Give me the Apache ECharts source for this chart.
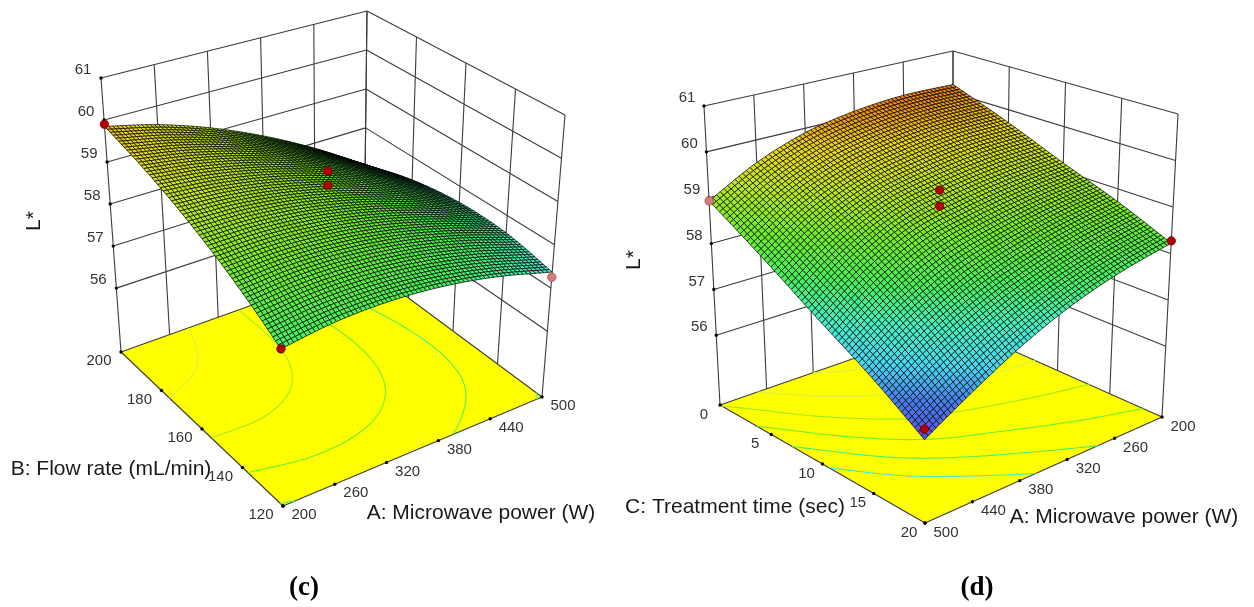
<!DOCTYPE html>
<html><head><meta charset="utf-8">
<style>html,body{margin:0;padding:0;background:#fff}#c{width:1254px;height:607px}</style>
<script src="https://cdn.jsdelivr.net/npm/echarts@6/dist/echarts.min.js"></script>
</head><body><div id="c"></div>
<script>
// ---------- data ----------
const powerTicks = [200, 260, 320, 380, 440, 500];
const flowTicks = [120, 140, 160, 180, 200];
const timeTicks = [0, 5, 10, 15, 20];
const lightnessTicks = [56, 57, 58, 59, 60, 61];
const contourLevels = [57.4, 57.9, 58.4, 58.9, 59.4, 59.9, 60.4];

// L* by flow rate (rows) and microwave power (columns)
const flowB120 = [57.86, 58.02, 58.05, 57.95, 57.72, 57.37];
const flowB140 = [58.48, 58.56, 58.51, 58.33, 58.02, 57.59];
const flowB160 = [59.02, 58.99, 58.84, 58.56, 58.14, 57.61];
const flowB180 = [59.48, 59.32, 59.04, 58.63, 58.10, 57.43];
const flowB200 = [59.85, 59.55, 59.12, 58.56, 57.87, 57.06];

// L* by treatment time (rows) and microwave power (columns)
const timeC0  = [60.20, 60.22, 60.12, 59.90, 59.50, 58.93];
const timeC5  = [59.70, 59.68, 59.55, 59.32, 58.88, 58.20];
const timeC10 = [59.18, 59.10, 58.95, 58.72, 58.20, 57.48];
const timeC15 = [58.72, 58.56, 58.32, 57.98, 57.48, 56.83];
const timeC20 = [58.22, 58.00, 57.68, 57.24, 56.70, 56.13];

// design points [power, second factor, L*, colour key]
const pointsC = [[200,200,59.90,0],[200,120,57.86,0],[500,120,57.25,1],[350,160,59.37,0],[350,160,59.05,0]];
const pointsD = [[500,0,58.93,1],[500,20,56.34,0],[200,20,58.27,0],[350,10,59.40,0],[350,10,59.05,0]];

// ---------- layout ----------
const Z_MIN = 54.48, Z_MAX = 61, MESH = 64;
const palette = [[56.1,[85,75,225]],[56.6,[70,130,240]],[57.0,[70,215,245]],[57.5,[70,240,190]],
  [58.0,[70,240,90]],[58.6,[115,238,40]],[59.2,[190,232,30]],[59.7,[238,215,20]],[60.2,[240,130,20]],[61,[220,80,20]]];
function colorAt(z){
  if(z<=palette[0][0]) return 'rgb('+palette[0][1]+')';
  for(let i=1;i<palette.length;i++){ if(z<=palette[i][0]){
    const a=palette[i-1],b=palette[i],f=(z-a[0])/(b[0]-a[0]);
    return 'rgb('+a[1].map((c,k)=>Math.round(c+(b[1][k]-c)*f))+')'; } }
  return 'rgb('+palette[palette.length-1][1]+')';
}
const panelC = {
  secondTicks: flowTicks, rows:[flowB120,flowB140,flowB160,flowB180,flowB200], points:pointsC, front:[0,0],
  wallU:1, wallV:1,
  floor:[[[283,506],[121,352]],[[542,397],[364,265]]], // [u][v]
  top:[[[279,203],[101,78]],[[565,115],[367,11]]],
  powerAxisV:0, secondAxisU:0, zAxis:[0,1],
  zOff:[-18,-8], powerOff:[21,9], secondOff:[-22,9]
};
const panelD = {
  secondTicks: timeTicks, rows:[timeC0,timeC5,timeC10,timeC15,timeC20], points:pointsD, front:[1,1],
  wallU:0, wallV:0,
  floor:[[[953,324],[1162,417]],[[720,405],[925,523]]],
  top:[[[953,51],[1178,114]],[[704,106],[923,194]]],
  powerAxisV:1, secondAxisU:1, zAxis:[1,0],
  zOff:[-17,-8], powerOff:[21,9.5], secondOff:[-16,9.5]
};
const titles = [
  ['B: Flow rate (mL/min)',111,469],['A: Microwave power (W)',481,513],
  ['C: Treatment time (sec)',735,507],['A: Microwave power (W)',1124,517]
];
const captions = [['(c)',304,588],['(d)',977,588]];
const yTitles = [[34,221],[634,260]];

// ---------- geometry helpers ----------
const mix=(a,b,f)=>a+(b-a)*f;
function project(p,u,v,t){
  const c=(arr)=>[0,1].map(k=>mix(mix(arr[0][0][k],arr[1][0][k],u),mix(arr[0][1][k],arr[1][1][k],u),v));
  const f=c(p.floor), g=c(p.top);
  return [mix(f[0],g[0],t),mix(f[1],g[1],t)];
}
const tOf=z=>(z-Z_MIN)/(Z_MAX-Z_MIN);
function cr(a,b,c,d,f){return b+.5*f*(c-a+f*(2*a-5*b+4*c-d+f*(3*(b-c)+d-a)));}
function sample1(arr,x){
  const n=arr.length-1,i=Math.min(n-1,Math.floor(x*n)),f=x*n-i;
  const a=i>0?arr[i-1]:2*arr[0]-arr[1], d=i+2<=n?arr[i+2]:2*arr[n]-arr[n-1];
  return cr(a,arr[i],arr[i+1],d,f);
}
function surfaceValue(p,u,v){ return sample1(p.rows.map(r=>sample1(r,u)),v); }
for(const p of [panelC,panelD]){
  p.mesh=[];
  for(let i=0;i<=MESH;i++){p.mesh.push([]);for(let j=0;j<=MESH;j++)p.mesh[i].push(surfaceValue(p,i/MESH,j/MESH));}
  p.cells=[];
  for(let a=0;a<MESH;a++)for(let b=0;b<MESH;b++){
    const i=p.front[0]===0?MESH-1-a:a, j=p.front[1]===0?MESH-1-b:b;
    p.cells.push([i,j]);
  }
  // floor contours
  p.segs=[];
  contourLevels.forEach((lv,li)=>{
    for(let i=0;i<MESH;i++)for(let j=0;j<MESH;j++){
      const c=[[i,j],[i+1,j],[i+1,j+1],[i,j+1]],pts=[];
      for(let k=0;k<4;k++){
        const A=c[k],B=c[(k+1)%4],za=p.mesh[A[0]][A[1]],zb=p.mesh[B[0]][B[1]];
        if((za<lv)!==(zb<lv)){const f=(lv-za)/(zb-za);pts.push([mix(A[0],B[0],f)/MESH,mix(A[1],B[1],f)/MESH]);}
      }
      if(pts.length>=2)p.segs.push([pts[0][0],pts[0][1],pts[1][0],pts[1][1],li]);
    }
  });
  // wall lines
  const W=p.wallU,V=p.wallV,L=p.wallLines=[];
  const nU=powerTicks.length-1,nV=p.secondTicks.length-1;
  for(let i=0;i<=nU;i++)L.push([i/nU,V,0,i/nU,V,1]);
  for(let j=0;j<=nV;j++)L.push([W,j/nV,0,W,j/nV,1]);
  for(const z of lightnessTicks){
    const t=tOf(z);
    L.push([0,V,t,1,V,t]);
    L.push([W,0,t,W,1,t]);
  }
  // floor edges
  p.edges=[[0,0,0,1,0,0],[1,0,0,1,1,0],[1,1,0,0,1,0],[0,1,0,0,0,0]];
  // tick list: [u,v,t,text,offset key]
  const T=p.ticks=[];
  powerTicks.forEach((a,i)=>T.push([i/nU,p.powerAxisV,0,String(a),'powerOff']));
  p.secondTicks.forEach((b,j)=>T.push([p.secondAxisU,j/nV,0,String(b),'secondOff']));
  lightnessTicks.forEach(z=>T.push([p.zAxis[0],p.zAxis[1],tOf(z),String(z),'zOff']));
}
// ---------- series ----------
const base={type:'custom',coordinateSystem:'cartesian2d',silent:true,animation:false,progressive:0,clip:false};
function makeSeries(p,idx){
  const xy=(api,u,v,t)=>api.coord(project(p,u,v,t));
  const lineStyle={stroke:'#3c3c3c',lineWidth:1.1};
  const seg=(api,a)=>{const s=xy(api,a[0],a[1],a[2]),e=xy(api,a[3],a[4],a[5]);
    return {type:'line',shape:{x1:s[0],y1:s[1],x2:e[0],y2:e[1]},style:lineStyle};};
  const secMax=p.secondTicks[p.secondTicks.length-1],secMin=p.secondTicks[0];
  return [
   {...base,name:'walls'+idx,z:1,data:p.wallLines.map((_,i)=>[i,0]),renderItem:(pr,api)=>seg(api,p.wallLines[api.value(0)])},
   {...base,name:'floor'+idx,z:2,data:[[0,0]],renderItem:(pr,api)=>({type:'polygon',
      shape:{points:[xy(api,0,0,0),xy(api,1,0,0),xy(api,1,1,0),xy(api,0,1,0)]},style:{fill:'#ffff00'}})},
   {...base,name:'edges'+idx,z:3,data:p.edges.map((_,i)=>[i,0]),renderItem:(pr,api)=>seg(api,p.edges[api.value(0)])},
   {...base,name:'contours'+idx,z:4,data:p.segs.map((_,i)=>[i,0]),renderItem:(pr,api)=>{
      const a=p.segs[api.value(0)],s=xy(api,a[0],a[1],0),e=xy(api,a[2],a[3],0),lv=contourLevels[a[4]];
      return {type:'line',shape:{x1:s[0],y1:s[1],x2:e[0],y2:e[1]},style:{stroke:lv>59.2?'#d8f050':colorAt(lv),lineWidth:1.1}};}},
   {...base,name:'surface'+idx,z:5,data:p.cells,renderItem:(pr,api)=>{
      const i=api.value(0),j=api.value(1),m=p.mesh;
      const q=[[i,j],[i+1,j],[i+1,j+1],[i,j+1]];
      const pts=q.map(c=>xy(api,c[0]/MESH,c[1]/MESH,tOf(m[c[0]][c[1]])));
      const z=(m[i][j]+m[i+1][j]+m[i+1][j+1]+m[i][j+1])/4;
      return {type:'polygon',shape:{points:pts},style:{fill:colorAt(z),stroke:'#000',lineWidth:0.7}};}},
   {...base,name:'ticks'+idx,z:6,data:p.ticks.map((_,i)=>[i,0]),renderItem:(pr,api)=>{
      const a=p.ticks[api.value(0)],c=xy(api,a[0],a[1],a[2]),o=p[a[4]];
      return {type:'group',children:[
        {type:'circle',shape:{cx:c[0],cy:c[1],r:1.7},style:{fill:'#000'}},
        {type:'text',x:c[0]+o[0],y:c[1]+o[1],style:{text:a[3],fill:'#333',font:'15px "Liberation Sans"',textAlign:'center',textVerticalAlign:'middle'}}
      ]};}},
   {...base,name:'points'+idx,z:7,data:p.points,renderItem:(pr,api)=>{
      const u=(api.value(0)-200)/300,v=(api.value(1)-secMin)/(secMax-secMin),c=xy(api,u,v,tOf(api.value(2)));
      const pink=api.value(3)===1;
      return {type:'circle',shape:{cx:c[0],cy:c[1],r:4.2},style:{fill:pink?'#d87c7c':'#b40000',stroke:pink?'#9a5050':'#6a0000',lineWidth:0.8}};}}
  ];
}
const textEl=(s,x,y,font,fill)=>({type:'text',x,y,style:{text:s,font,fill,textAlign:'center',textVerticalAlign:'middle'}});
const chart=echarts.init(document.getElementById('c'),null,{renderer:'canvas'});
chart.setOption({
  animation:false,backgroundColor:'#fff',
  grid:{left:0,right:0,top:0,bottom:0},
  xAxis:{type:'value',min:0,max:1254,show:false},
  yAxis:{type:'value',min:0,max:607,inverse:true,show:false},
  series:[...makeSeries(panelC,0),...makeSeries(panelD,1)],
  graphic:[
    ...titles.map(t=>textEl(t[0],t[1],t[2],'21px "Liberation Sans"','#1a1a1a')),
    ...captions.map(t=>textEl(t[0],t[1],t[2],'bold 27px "Liberation Serif"','#000')),
    ...yTitles.map(t=>({type:'text',x:t[0],y:t[1],rotation:Math.PI/2,style:{text:'L*',font:'21px "Liberation Sans"',fill:'#1a1a1a',textAlign:'center',textVerticalAlign:'middle'}}))
  ]
});
</script></body></html>
